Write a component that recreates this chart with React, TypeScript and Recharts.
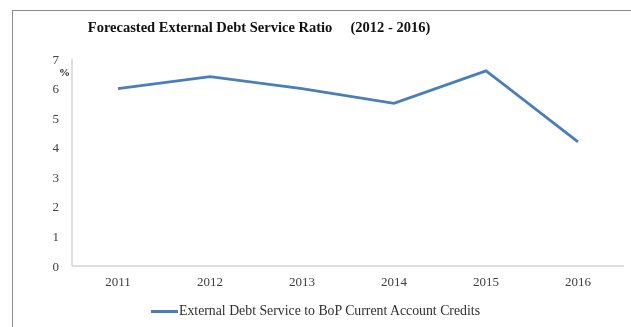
import { Line, LineChart, XAxis, YAxis } from "recharts";

const YEARS = ["2011", "2012", "2013", "2014", "2015", "2016"];
const RATIO = [6.0, 6.4, 6.0, 5.5, 6.6, 4.2];
const Y_TICKS = [0, 1, 2, 3, 4, 5, 6, 7];
const SERIES_NAME = "External Debt Service to BoP Current Account Credits";

const data = YEARS.map((year, i) => ({ year, ratio: RATIO[i] }));

const tickStyle = { fontFamily: "Liberation Serif", fontSize: 13, fill: "#404040" };

export default function App() {
  return (
    <div style={{ position: "fixed", left: 0, top: 0, width: 631, height: 327 }}>
      <div
        style={{
          position: "absolute",
          left: 12,
          top: 10,
          width: 619,
          height: 317,
          borderLeft: "1px solid #8c8c8c",
          borderTop: "1px solid #8c8c8c",
        }}
      />
      <div
        style={{
          position: "absolute",
          left: 0,
          top: 19,
          width: 518,
          textAlign: "center",
          fontFamily: "Liberation Serif",
          fontWeight: "bold",
          fontSize: 14.5,
          color: "#111",
        }}
      >
        Forecasted External Debt Service Ratio{"\u00a0\u00a0\u00a0\u00a0\u00a0"}(2012 - 2016)
      </div>
      <div style={{ position: "absolute", left: 0, top: 0 }}>
        <LineChart
          width={631}
          height={327}
          data={data}
          margin={{ top: 59, right: 7, bottom: 31, left: 40 }}
        >
          <XAxis
            dataKey="year"
            padding={{ left: 46, right: 46 }}
            tickLine={false}
            axisLine={{ stroke: "#d4d4d4", strokeWidth: 1.5 }}
            tick={tickStyle}
            tickMargin={5}
            height={30}
          />
          <YAxis
            domain={[0, 7]}
            ticks={Y_TICKS}
            interval={0}
            width={32}
            tickLine={false}
            axisLine={{ stroke: "#d4d4d4", strokeWidth: 1.5 }}
            tick={tickStyle}
            tickMargin={7}
            label={(props: any) => {
              const vb = props.viewBox || {};
              return (
                <text
                  x={(vb.x ?? 40) + (vb.width ?? 32) - 2}
                  y={(vb.y ?? 59) + 17}
                  textAnchor="end"
                  fontFamily="Liberation Serif"
                  fontWeight="bold"
                  fontSize={11}
                  fill="#222"
                >
                  %
                </text>
              );
            }}
          />
          <Line
            type="linear"
            dataKey="ratio"
            name={SERIES_NAME}
            stroke="#4a7ebb"
            strokeWidth={2.75}
            dot={false}
            activeDot={false}
            isAnimationActive={false}
          />
        </LineChart>
      </div>
      <div
        style={{
          position: "absolute",
          left: 0,
          top: 303,
          width: 631,
          display: "flex",
          alignItems: "center",
          justifyContent: "center",
          fontFamily: "Liberation Serif",
          fontSize: 13.8,
          color: "#303030",
        }}
      >
        <span
          style={{
            display: "inline-block",
            width: 27,
            height: 3,
            background: "#4a7ebb",
            marginRight: 1,
          }}
        />
        {SERIES_NAME}
      </div>
    </div>
  );
}
